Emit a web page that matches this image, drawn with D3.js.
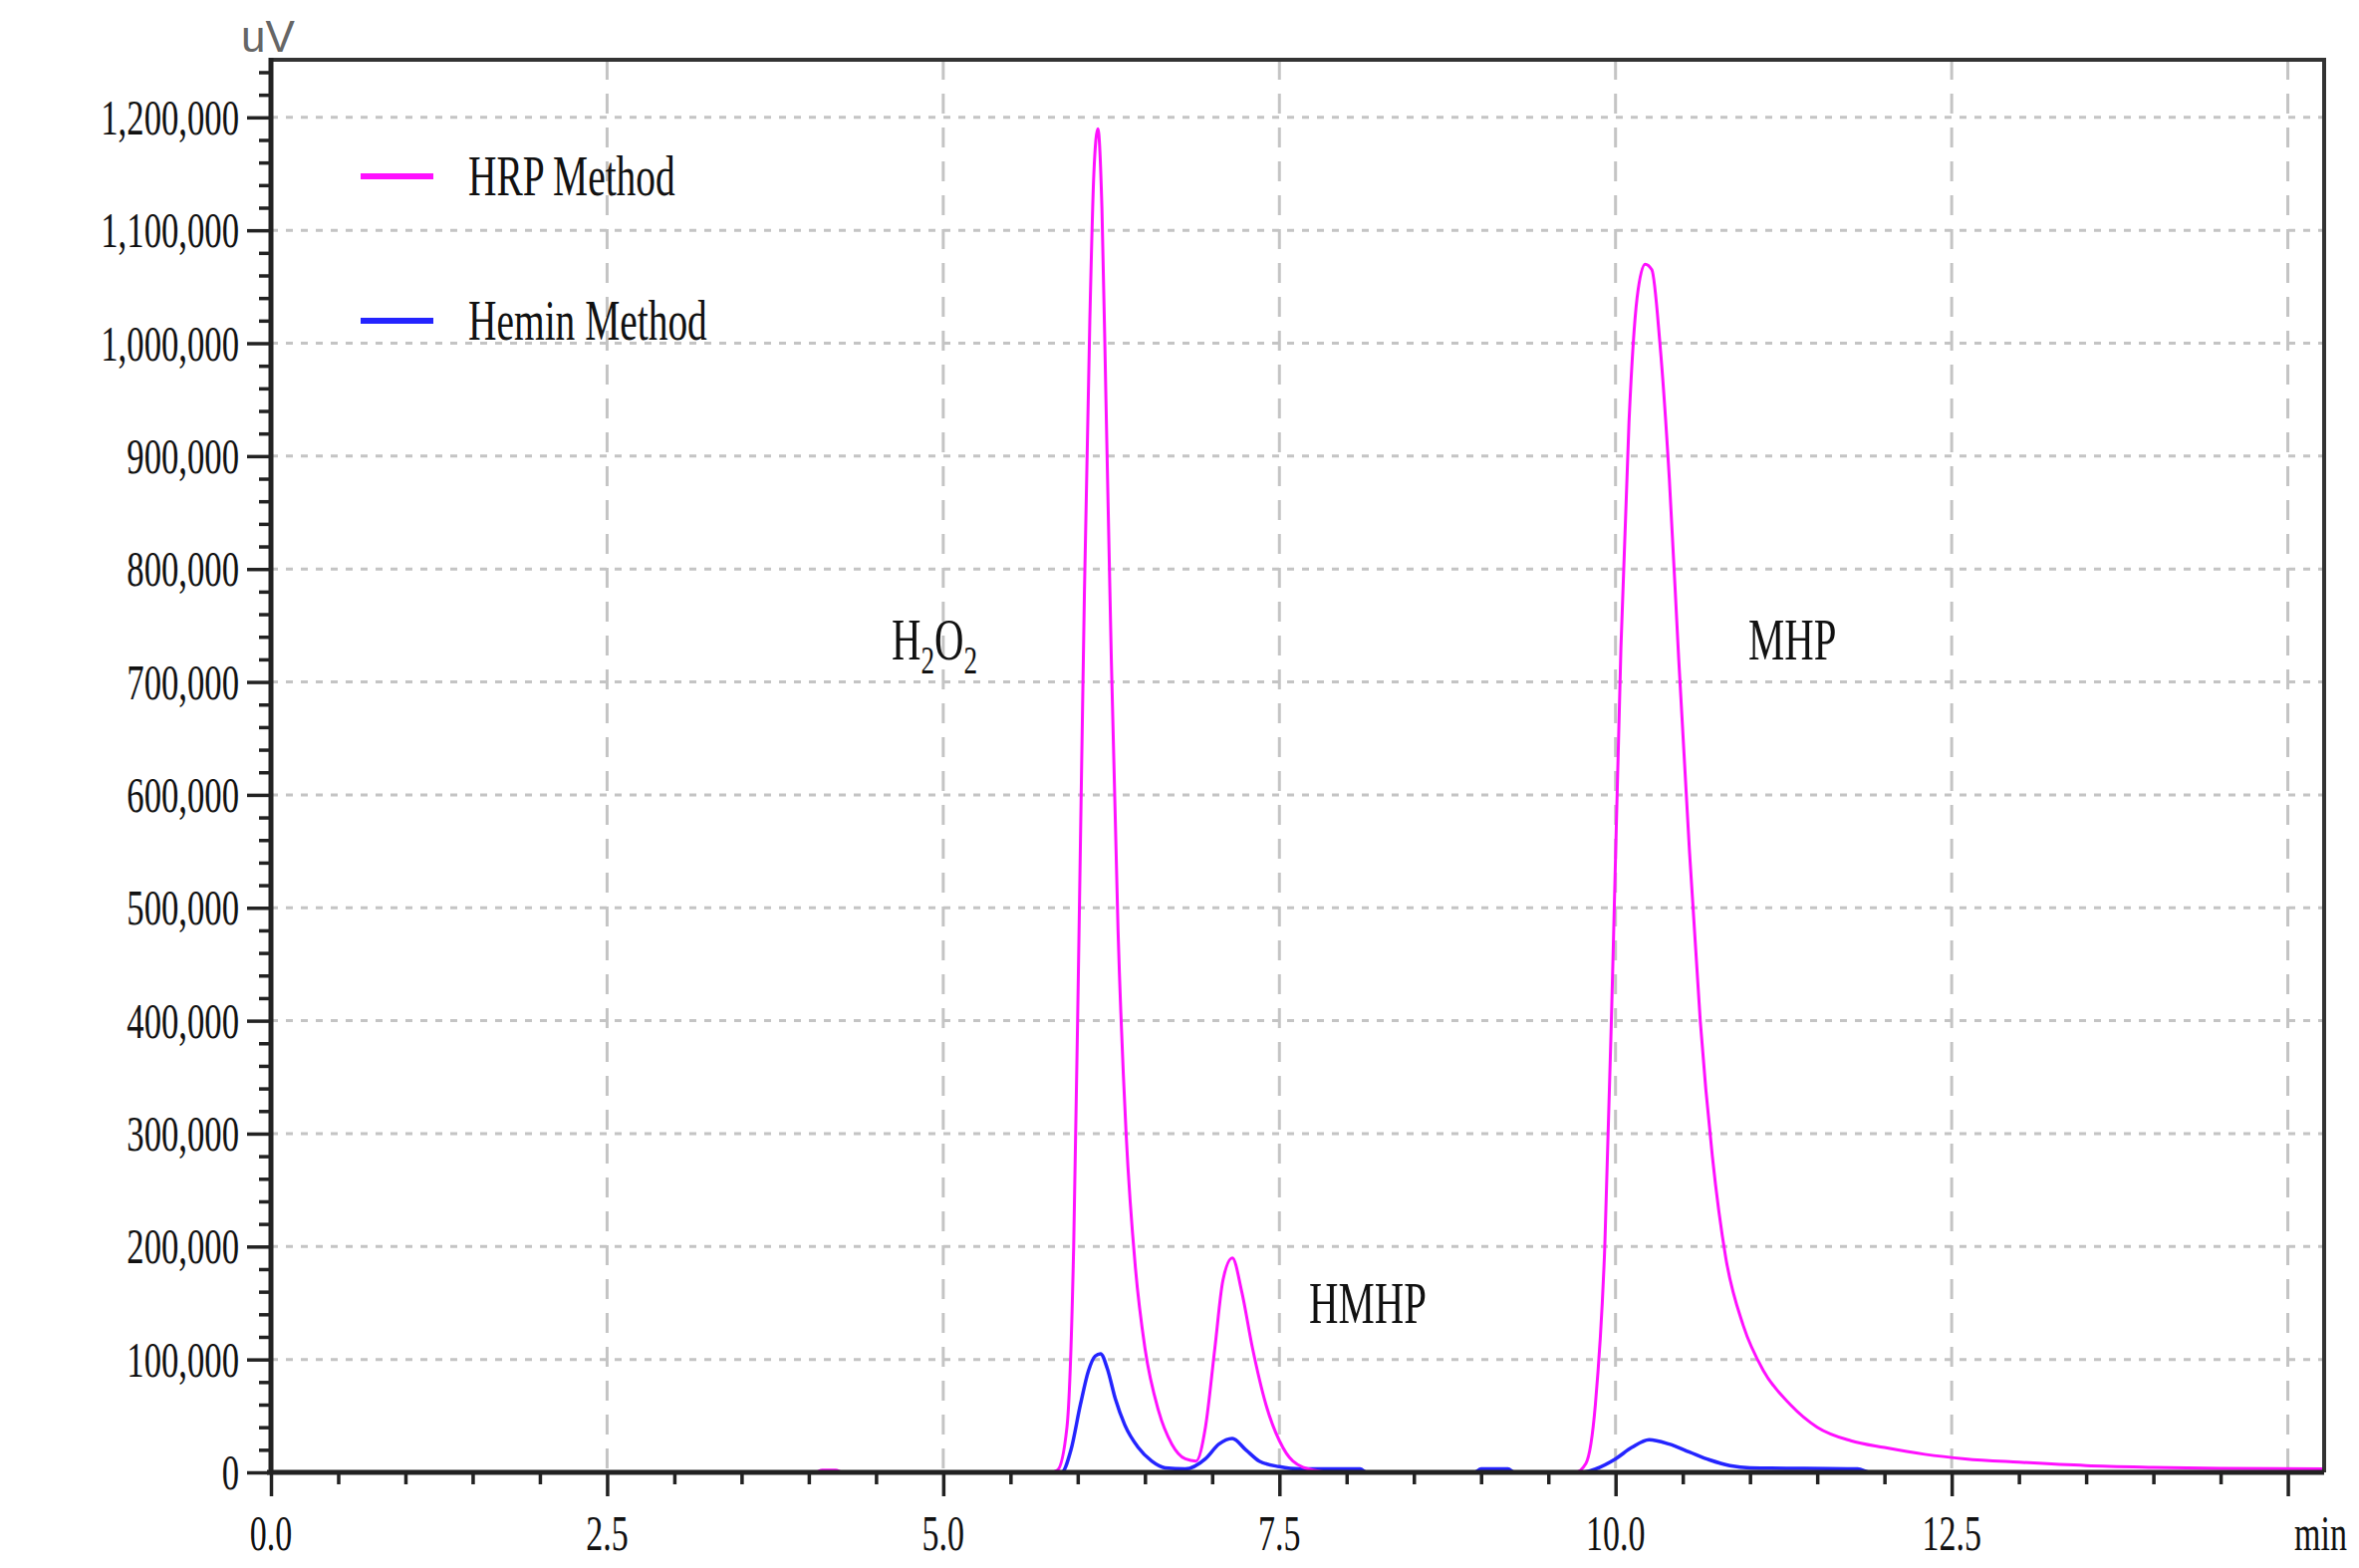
<!DOCTYPE html>
<html><head><meta charset="utf-8">
<script src="https://cdn.jsdelivr.net/npm/d3@7"></script>
<style>body{margin:0;background:#fff}svg{display:block}</style>
</head><body><div id="chart"></div>
<script>
// retention time (min) and signal (uV)
const hrpTime = [0, 4.05, 4.1, 4.2, 4.25, 5.8, 5.85, 5.92, 5.97, 6.01, 6.05, 6.09, 6.12, 6.15, 6.18, 6.21, 6.25, 6.3, 6.36, 6.43, 6.5, 6.6, 6.7, 6.8, 6.88, 6.95, 7.02, 7.08, 7.15, 7.22, 7.3, 7.4, 7.5, 7.6, 7.75, 7.9, 9.7, 9.78, 9.85, 9.92, 9.98, 10.04, 10.1, 10.16, 10.22, 10.27, 10.33, 10.4, 10.47, 10.55, 10.63, 10.72, 10.82, 10.95, 11.1, 11.3, 11.5, 11.75, 12.0, 12.3, 12.6, 13.0, 13.5, 14.0, 14.5, 15.27];
const hrpValue = [0, 0, 2000, 2000, 0, 0, 2000, 40000, 200000, 480000, 780000, 1020000, 1150000, 1190000, 1120000, 950000, 720000, 480000, 300000, 180000, 110000, 55000, 25000, 12000, 10000, 40000, 110000, 170000, 190000, 160000, 110000, 60000, 28000, 10000, 2000, 0, 0, 8000, 60000, 200000, 450000, 730000, 930000, 1040000, 1070000, 1065000, 1000000, 880000, 720000, 550000, 400000, 280000, 190000, 130000, 90000, 60000, 40000, 28000, 22000, 16000, 12000, 9000, 6000, 4500, 3500, 3000];

const heminTime = [0, 5.88, 5.95, 6.02, 6.08, 6.13, 6.17, 6.22, 6.28, 6.35, 6.45, 6.55, 6.65, 6.8, 6.95, 7.05, 7.15, 7.25, 7.35, 7.5, 7.65, 8.1, 8.15, 8.95, 9.0, 9.2, 9.25, 9.75, 9.85, 10.0, 10.12, 10.25, 10.4, 10.55, 10.7, 10.85, 11.0, 11.8, 11.9, 15.27];
const heminValue = [0, 0, 20000, 60000, 90000, 103000, 105000, 92000, 65000, 42000, 22000, 10000, 4000, 3000, 12000, 25000, 30000, 20000, 10000, 5000, 3000, 3000, 0, 0, 3000, 3000, 0, 0, 3000, 12000, 22000, 29000, 25000, 18000, 11000, 6000, 4000, 3000, 0, 0];

const xTicks = [0, 2.5, 5, 7.5, 10, 12.5];
const yTicks = [0, 100000, 200000, 300000, 400000, 500000, 600000, 700000, 800000, 900000, 1000000, 1100000, 1200000];
const seriesNames = ["HRP Method", "Hemin Method"];
const seriesColors = ["#ff10ff", "#2424ff"];

const W = 2368, H = 1574;
const mLeft = 272, mRight = 2333, mTop = 60, mBottom = 1478;
const sx = 0.68; // condensed serif look

const svg = d3.select("#chart").append("svg").attr("width", W).attr("height", H);

const x = d3.scaleLinear().domain([0, 15.27]).range([mLeft, mRight]);
const y = d3.scaleLinear().domain([0, 1251000]).range([mBottom, mTop]);

// grid
svg.append("g").selectAll("line").data(yTicks.slice(1))
  .join("line")
  .attr("x1", mLeft).attr("x2", mRight)
  .attr("y1", d => y(d)).attr("y2", d => y(d))
  .attr("stroke", "#c4c4c4").attr("stroke-width", 3).attr("stroke-dasharray", "7,8");
svg.append("g").selectAll("line").data([2.5, 5, 7.5, 10, 12.5, 15])
  .join("line")
  .attr("x1", d => x(d)).attr("x2", d => x(d))
  .attr("y1", mTop).attr("y2", mBottom)
  .attr("stroke", "#c4c4c4").attr("stroke-width", 3).attr("stroke-dasharray", "20,14");

function condensed(sel, px, py, size, anchor) {
  sel.attr("transform", `translate(${px},${py}) scale(${sx},1)`)
    .attr("font-family", "Liberation Serif, Times New Roman, serif")
    .attr("font-size", size).attr("fill", "#111")
    .attr("text-anchor", anchor || "start");
  return sel;
}

// curves
const line = d3.line().x(d => x(d[0])).y(d => y(d[1])).curve(d3.curveMonotoneX);
svg.append("path").datum(heminTime.map((t, i) => [t, heminValue[i]]))
  .attr("d", line).attr("fill", "none").attr("stroke", seriesColors[1]).attr("stroke-width", 3.5);
svg.append("path").datum(hrpTime.map((t, i) => [t, hrpValue[i]]))
  .attr("d", line).attr("fill", "none").attr("stroke", seriesColors[0]).attr("stroke-width", 3);

// frame
svg.append("path")
  .attr("d", `M${mLeft},${mTop}H${mRight}V${mBottom}`)
  .attr("fill", "none").attr("stroke", "#333").attr("stroke-width", 4);

// x axis
const xa = svg.append("g").attr("transform", `translate(0,${mBottom})`)
  .call(d3.axisBottom(x).tickValues(d3.range(0, 15.01, 0.5)).tickSize(12).tickFormat(""));
xa.selectAll("line").attr("stroke", "#222").attr("stroke-width", 3.5);
xa.select(".domain").remove();
xa.selectAll(".tick").filter(d => Math.abs(d / 2.5 - Math.round(d / 2.5)) < 1e-6)
  .select("line").attr("y2", 24);
svg.append("line").attr("x1", mLeft - 4).attr("x2", mRight).attr("y1", mBottom).attr("y2", mBottom)
  .attr("stroke", "#222").attr("stroke-width", 5);
xTicks.forEach(t => {
  condensed(svg.append("text"), x(t), 1556, 50, "middle").text(d3.format(".1f")(t));
});
condensed(svg.append("text"), 2356, 1556, 50, "end").text("min");

// y axis
const ya = svg.append("g").attr("transform", `translate(${mLeft},0)`)
  .call(d3.axisLeft(y).tickValues(d3.range(0, 1250001, 20000)).tickSize(12).tickFormat(""));
ya.selectAll("line").attr("stroke", "#222").attr("stroke-width", 3.5);
ya.select(".domain").remove();
ya.selectAll(".tick").filter(d => d % 100000 === 0).select("line").attr("x2", -24);
svg.append("line").attr("x1", mLeft).attr("x2", mLeft).attr("y1", mTop - 2).attr("y2", mBottom + 2)
  .attr("stroke", "#222").attr("stroke-width", 5);
yTicks.forEach(v => {
  condensed(svg.append("text"), 240, y(v) + 17, 51, "end").text(d3.format(",")(v));
});
svg.append("text").attr("x", 242).attr("y", 52)
  .attr("font-family", "Liberation Sans Narrow, Liberation Sans, sans-serif")
  .attr("font-size", 44).attr("fill", "#666").text("uV");

// legend
seriesNames.forEach((name, i) => {
  const ly = 177 + i * 145;
  svg.append("line").attr("x1", 362).attr("x2", 435).attr("y1", ly).attr("y2", ly)
    .attr("stroke", seriesColors[i]).attr("stroke-width", 6);
  condensed(svg.append("text"), 470, ly + 19, 58).text(name);
});

// peak labels
const h2o2 = condensed(svg.append("text"), 895, 662, 60);
h2o2.append("tspan").text("H");
h2o2.append("tspan").attr("font-size", 40).attr("dy", 14).text("2");
h2o2.append("tspan").attr("dy", -14).text("O");
h2o2.append("tspan").attr("font-size", 40).attr("dy", 14).text("2");
condensed(svg.append("text"), 1755, 662, 60).text("MHP");
condensed(svg.append("text"), 1314, 1328, 60).text("HMHP");
</script>
</body></html>
